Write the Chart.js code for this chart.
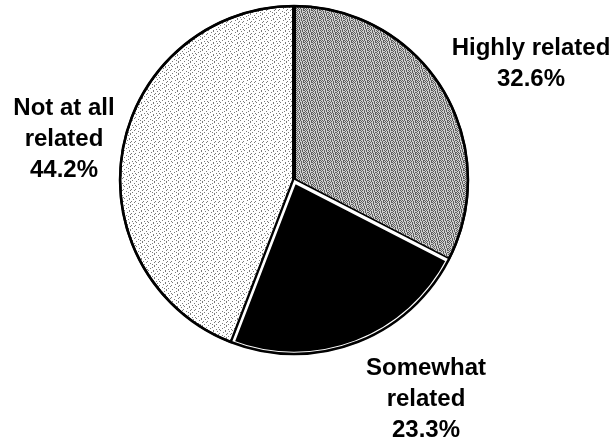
<!DOCTYPE html>
<html>
<head>
<meta charset="utf-8">
<script src="https://cdn.jsdelivr.net/npm/chart.js@4.4.1/dist/chart.umd.min.js"></script>
<style>
  html, body { margin: 0; padding: 0; background: #fff; }
  #wrap { width: 614px; height: 443px; }
</style>
</head>
<body>
<div id="wrap"><canvas id="pie" width="614" height="443"></canvas></div>
<script>
// data
const categories = ["Highly related", "Somewhat related", "Not at all related"];
const shares = [32.6, 23.3, 44.2];
const labelLines = [["Highly related", "32.6%"], ["Somewhat", "related", "23.3%"], ["Not at all", "related", "44.2%"]];

// small bitmap used as a fill texture
function makePattern(bg, fg, rows) {
  const c = document.createElement("canvas");
  c.width = rows[0].length;
  c.height = rows.length;
  const g = c.getContext("2d");
  g.fillStyle = bg;
  g.fillRect(0, 0, c.width, c.height);
  g.fillStyle = fg;
  rows.forEach((row, y) => {
    for (let x = 0; x < row.length; x++) {
      if (row[x] === "#") g.fillRect(x, y, 1, 1);
    }
  });
  return g.createPattern(c, "repeat");
}

const ctx = document.getElementById("pie").getContext("2d");

const greyFill = makePattern("#cfcfcf", "#5e5e5e", [
  "#.#.#..#",
  ".#.#.#.#",
  "#.#..#.#",
  ".#.#.#..",
  "#..#.#.#",
  ".#.#..#.",
  "#.#.#.#.",
  ".#..#.#.",
]);
const lightFill = makePattern("#ffffff", "#7a7a7a", [
  "#.......#...",
  "....#.....#.",
  "..........#.",
  "..#.....#...",
  "......#.....",
  "#..#........",
  "....#....#..",
  ".#.......#..",
  ".......#....",
  "...#.......#",
  "..#.......#.",
  "......#.....",
]);

// first-line baselines of the labels, relative to the pie centre
const labelOffsets = [[237, -125], [132, 195], [-230, -65]];

const labelPlugin = {
  id: "sliceLabels",
  afterDatasetsDraw(chart) {
    const arc = chart.getDatasetMeta(0).data[0];
    const c = chart.ctx;
    c.save();
    // outer black ring
    c.beginPath();
    c.arc(arc.x, arc.y, arc.outerRadius - 1, 0, Math.PI * 2);
    c.lineWidth = 2.5;
    c.strokeStyle = "#000";
    c.stroke();

    c.fillStyle = "#000";
    c.font = "bold 24px 'Liberation Sans', Arial, sans-serif";
    c.textAlign = "center";
    c.textBaseline = "alphabetic";
    labelLines.forEach((lines, i) => {
      const ox = arc.x + labelOffsets[i][0];
      const oy = arc.y + labelOffsets[i][1];
      lines.forEach((t, j) => c.fillText(t, ox, oy + j * 31));
    });
    c.restore();
  },
};

new Chart(ctx, {
  type: "pie",
  data: {
    labels: categories,
    datasets: [
      {
        data: shares,
        backgroundColor: [greyFill, "#000000", lightFill],
        borderColor: ["#000000", "#ffffff", "#000000"],
        borderWidth: [2, 3, 2],
        borderAlign: "inner",
      },
    ],
  },
  options: {
    responsive: false,
    animation: false,
    layout: { padding: { left: 119, right: 145, top: 5, bottom: 88 } },
    plugins: {
      legend: { display: false },
      tooltip: { enabled: false },
    },
  },
  plugins: [labelPlugin],
});
</script>
</body>
</html>
